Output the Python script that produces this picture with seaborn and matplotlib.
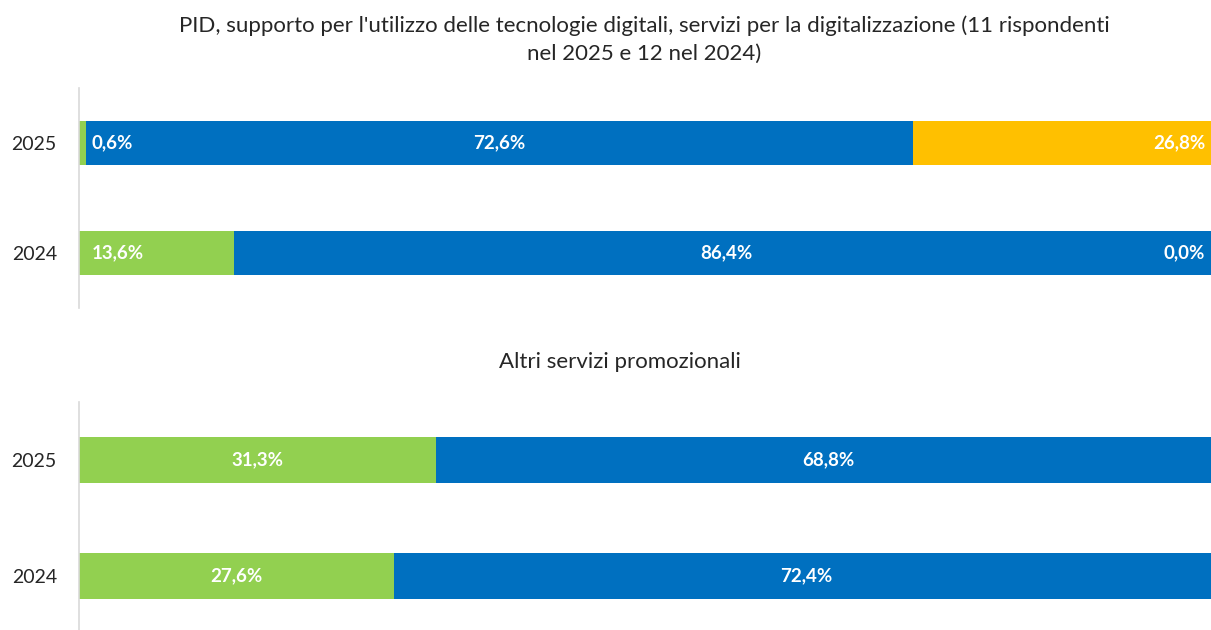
import matplotlib
matplotlib.use("Agg")
import matplotlib.pyplot as plt
import seaborn as sns
import pandas as pd
import numpy as np

# data
years = ["2025", "2024"]
pid_green = [0.6, 13.6]
pid_blue = [72.6, 86.4]
pid_yellow = [26.8, 0.0]
altri_green = [31.3, 27.6]
altri_blue = [68.8, 72.4]

title_top = ("PID, supporto per l'utilizzo delle tecnologie digitali, servizi per la digitalizzazione (11 rispondenti\n"
             "nel 2025 e 12 nel 2024)")
title_bottom = "Altri servizi promozionali"

GREEN = "#92D050"
BLUE = "#0070C0"
YELLOW = "#FFC000"

sns.set_style("white")
plt.rcParams["font.family"] = ["Lato", "DejaVu Sans"]

fig = plt.figure(figsize=(12.11, 6.30), dpi=100)
ax_top = fig.add_axes([79 / 1211, 1 - 308 / 630, 1140 / 1211, 220 / 630])
ax_bot = fig.add_axes([79 / 1211, 1 - 634 / 630, 1140 / 1211, 232 / 630])


def stacked(ax, series, colors):
    # cumulative totals, drawn from the longest to the shortest so they overlap into a stack
    cums = np.cumsum(np.array(series), axis=0)
    for cum, col in reversed(list(zip(cums, colors))):
        df = pd.DataFrame({"year": years, "val": cum})
        sns.barplot(data=df, y="year", x="val", color=col, width=0.4,
                    saturation=1, orient="h", ax=ax, linewidth=0)
    return cums


def style(ax):
    ax.set_xlim(0, 100)
    ax.set_ylim(1.5, -0.5)
    ax.set_xlabel("")
    ax.set_ylabel("")
    ax.set_xticks([])
    for s in ["top", "right", "bottom"]:
        ax.spines[s].set_visible(False)
    ax.spines["left"].set_color("#D9D9D9")
    ax.spines["left"].set_linewidth(1.2)
    ax.tick_params(axis="y", length=0, pad=16, labelsize=14, labelcolor="#262626")


lab_kw = dict(color="white", fontsize=13.5, fontweight="bold", va="center")


def pct(v):
    return f"{v:.1f}%".replace(".", ",")


# top chart
cums = stacked(ax_top, [pid_green, pid_blue, pid_yellow], [GREEN, BLUE, YELLOW])
style(ax_top)
for i in range(len(years)):
    ax_top.annotate(pct(pid_green[i]), (0, i), xytext=(9, 0),
                    textcoords="offset points", ha="left", **lab_kw)
    ax_top.text(cums[0][i] + pid_blue[i] / 2, i, pct(pid_blue[i]), ha="center", **lab_kw)
    ax_top.annotate(pct(pid_yellow[i]), (cums[2][i], i), xytext=(-10, 0),
                    textcoords="offset points", ha="right", **lab_kw)

# bottom chart
cums = stacked(ax_bot, [altri_green, altri_blue], [GREEN, BLUE])
style(ax_bot)
for i in range(len(years)):
    ax_bot.text(altri_green[i] / 2, i, pct(altri_green[i]), ha="center", **lab_kw)
    ax_bot.text(cums[0][i] + altri_blue[i] / 2, i, pct(altri_blue[i]), ha="center", **lab_kw)

fig.text(644 / 1211, 1 - 40 / 630, title_top, ha="center", va="center",
         fontsize=16, color="#262626", linespacing=1.5)
fig.text(620 / 1211, 1 - 362 / 630, title_bottom, ha="center", va="center",
         fontsize=16, color="#262626")

fig.savefig("out.png", dpi=100)
